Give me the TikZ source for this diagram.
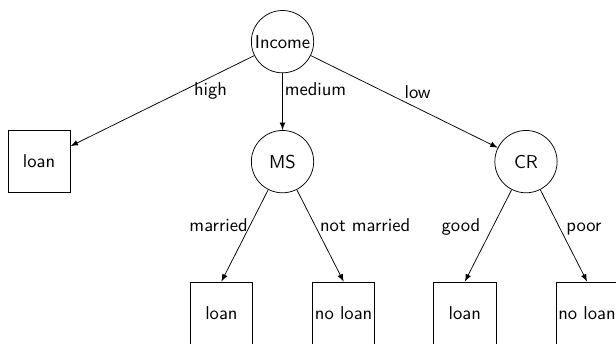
\documentclass[tikz,border=0pt]{standalone}
\usepackage{tikz}

\begin{document}
\begin{tikzpicture}[
    level distance=64.5pt,
    level 1/.style={sibling distance=130.9pt},
    level 2/.style={sibling distance=65.7pt,
      edge from parent path={(\tikzparentnode) -- (\tikzchildnode.north)}},
    edge from parent/.style={draw, -latex}
  ]
  \tikzstyle{every node}=[font=\sffamily, inner sep=1pt]
  \tikzstyle{attr}=[circle, draw, minimum size=33.5pt]
  \tikzstyle{leaf}=[rectangle, draw, minimum size=33.5pt]
  \useasboundingbox (-151.9pt,-162.5pt) rectangle (179.3pt,22.4pt);
  \clip (-151.9pt,-162.5pt) rectangle (179.3pt,22.4pt);
  \node[attr] (Income) {Income}
  child {
    node[leaf] (LoanHigh) {loan}
    edge from parent node[pos=.34, anchor=west, yshift=-2.7pt] {high}
  }
  child {
    node[attr] (MS) {MS}
    child {
      node[leaf, anchor=north] (LoanMarried) {loan}
      edge from parent node[pos=.39, anchor=east] {married}
    }
    child {
      node[leaf, anchor=north] (NoLoanNotMarried) {no loan}
      edge from parent node[pos=.39, anchor=west, xshift=1.5pt] {not married}
    }
    edge from parent node[pos=.28, anchor=west] {medium}
  }
  child {
    node[attr] (CR) {CR}
    child {
      node[leaf, anchor=north] (LoanGood) {loan}
      edge from parent node[pos=.41, anchor=east, xshift=-5.4pt] {good}
    }
    child {
      node[leaf, anchor=north] (NoLoanPoor) {no loan}
      edge from parent node[pos=.43, anchor=west, xshift=2pt] {poor}
    }
    edge from parent node[pos=.49, anchor=south west] {low}
  };
\end{tikzpicture}
\end{document}
